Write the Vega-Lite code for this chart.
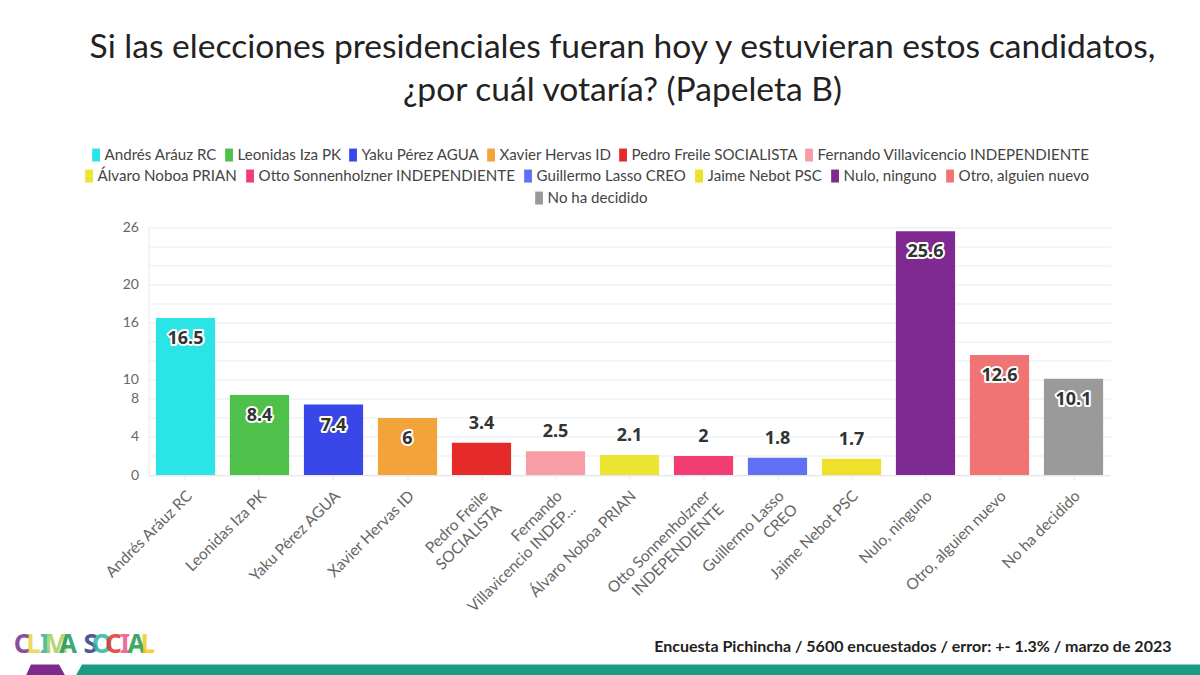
{
  "$schema": "https://vega.github.io/schema/vega-lite/v6.json",
  "width": 962,
  "height": 247.5,
  "autosize": {"type": "none"},
  "padding": {"left": 148.5, "top": 227.5, "right": 89.5, "bottom": 200},
  "background": "white",
  "view": {"stroke": null},
  "title": {
    "text": ["Si las elecciones presidenciales fueran hoy y estuvieran estos candidatos,", "¿por cuál votaría? (Papeleta B)"],
    "font": "Lato",
    "fontSize": 33.6,
    "fontWeight": "normal",
    "color": "#222222",
    "lineHeight": 43,
    "anchor": "middle",
    "frame": "group",
    "dx": -7,
    "offset": 40
  },
  "datasets": {
    "votos": [
      {"candidato": "Andrés Aráuz RC", "valor": 16.5, "fila": 1},
      {"candidato": "Leonidas Iza PK", "valor": 8.4, "fila": 1},
      {"candidato": "Yaku Pérez AGUA", "valor": 7.4, "fila": 1},
      {"candidato": "Xavier Hervas ID", "valor": 6, "fila": 1},
      {"candidato": "Pedro Freile SOCIALISTA", "valor": 3.4, "fila": 1},
      {"candidato": "Fernando Villavicencio INDEPENDIENTE", "valor": 2.5, "fila": 1},
      {"candidato": "Álvaro Noboa PRIAN", "valor": 2.1, "fila": 2},
      {"candidato": "Otto Sonnenholzner INDEPENDIENTE", "valor": 2, "fila": 2},
      {"candidato": "Guillermo Lasso CREO", "valor": 1.8, "fila": 2},
      {"candidato": "Jaime Nebot PSC", "valor": 1.7, "fila": 2},
      {"candidato": "Nulo, ninguno", "valor": 25.6, "fila": 2},
      {"candidato": "Otro, alguien nuevo", "valor": 12.6, "fila": 2},
      {"candidato": "No ha decidido", "valor": 10.1, "fila": 3}
    ],
    "franjas": [
      {"parte": "logo", "pos": 2.17, "alto": -21.05},
      {"parte": "logo", "pos": 2.58, "alto": -19.9},
      {"parte": "logo", "pos": 4.92, "alto": -19.9},
      {"parte": "logo", "pos": 5.42, "alto": -21.05},
      {"parte": "franja", "pos": 6.33, "alto": -21.05},
      {"parte": "franja", "pos": 6.83, "alto": -19.9},
      {"parte": "franja", "pos": 100, "alto": -19.9}
    ],
    "letras": [
      {"orden": 1, "letra": "C"},
      {"orden": 2, "letra": "L"},
      {"orden": 3, "letra": "I"},
      {"orden": 4, "letra": "M"},
      {"orden": 5, "letra": "A"},
      {"orden": 7, "letra": "S"},
      {"orden": 8, "letra": "O"},
      {"orden": 9, "letra": "C"},
      {"orden": 10, "letra": "I"},
      {"orden": 11, "letra": "A"},
      {"orden": 12, "letra": "L"}
    ]
  },
  "layer": [
    {
      "data": {"name": "votos"},
      "transform": [{"filter": "datum.fila == 1"}],
      "mark": {"type": "bar"},
      "encoding": {
        "x": {
          "field": "candidato",
          "type": "nominal",
          "scale": {
            "domain": ["Andrés Aráuz RC", "Leonidas Iza PK", "Yaku Pérez AGUA", "Xavier Hervas ID", "Pedro Freile SOCIALISTA", "Fernando Villavicencio INDEPENDIENTE", "Álvaro Noboa PRIAN", "Otto Sonnenholzner INDEPENDIENTE", "Guillermo Lasso CREO", "Jaime Nebot PSC", "Nulo, ninguno", "Otro, alguien nuevo", "No ha decidido"],
            "paddingInner": 0.2,
            "paddingOuter": 0.1
          },
          "axis": {
            "title": "Encuesta Pichincha / 5600 encuestados / error: +- 1.3% / marzo de 2023",
            "titleFont": "Lato",
            "titleFontSize": 16,
            "titleFontWeight": "bold",
            "titleColor": "#222222",
            "titleAlign": "right",
            "titleAnchor": "end",
            "titleX": 1022.5,
            "titleY": 163,
            "labelAngle": -45,
            "labelAlign": "right",
            "labelBaseline": "middle",
            "labelFont": "Lato",
            "labelFontSize": 15.5,
            "labelColor": "#666666",
            "labelLimit": 220,
            "labelPadding": 13,
            "labelOffset": 4,
            "labelOverlap": false,
            "labelLineHeight": 19,
            "labelExpr": "datum.label == 'Pedro Freile SOCIALISTA' ? ['Pedro Freile', 'SOCIALISTA'] : datum.label == 'Fernando Villavicencio INDEPENDIENTE' ? ['Fernando', 'Villavicencio INDEP…'] : datum.label == 'Otto Sonnenholzner INDEPENDIENTE' ? ['Otto Sonnenholzner', 'INDEPENDIENTE'] : datum.label == 'Guillermo Lasso CREO' ? ['Guillermo Lasso', 'CREO'] : datum.label",
            "tickColor": "#e6e8ee",
            "tickSize": 5,
            "domainColor": "#e6e8ee"
          }
        },
        "y": {
          "field": "valor",
          "type": "quantitative",
          "scale": {"domain": [0, 26], "nice": false},
          "axis": {
            "title": null,
            "values": [0, 2, 4, 6, 8, 10, 12, 14, 16, 18, 20, 22, 24, 26],
            "labelExpr": "indexof([0, 4, 8, 10, 16, 20, 26], datum.value) >= 0 ? datum.label : ''",
            "labelFont": "Lato",
            "labelFontSize": 14,
            "labelColor": "#666666",
            "labelPadding": 10,
            "gridColor": "#e9ebef",
            "domainColor": "#e9ebef",
            "ticks": false
          }
        },
        "color": {
          "field": "candidato",
          "type": "nominal",
          "scale": {
            "domain": ["Andrés Aráuz RC", "Leonidas Iza PK", "Yaku Pérez AGUA", "Xavier Hervas ID", "Pedro Freile SOCIALISTA", "Fernando Villavicencio INDEPENDIENTE"],
            "range": ["#2ae4e6", "#4fc14a", "#3a47e8", "#f2a33a", "#e62a2a", "#f89ca6"]
          },
          "legend": {"title": null, "orient": "none", "legendX": -60, "legendY": -80, "columns": 6, "gridAlign": "none", "columnPadding": 4, "labelFont": "Lato", "labelFontSize": 15.1, "labelColor": "#444444", "labelOffset": 1, "labelLimit": 320, "symbolType": "M-0.6,-1H0.6V1H-0.6Z", "symbolSize": 169, "symbolStrokeWidth": 0}
        }
      }
    },
    {
      "data": {"name": "votos"},
      "transform": [{"filter": "datum.fila == 2"}],
      "mark": {"type": "bar"},
      "encoding": {
        "x": {
          "field": "candidato",
          "type": "nominal",
          "scale": {
            "domain": ["Andrés Aráuz RC", "Leonidas Iza PK", "Yaku Pérez AGUA", "Xavier Hervas ID", "Pedro Freile SOCIALISTA", "Fernando Villavicencio INDEPENDIENTE", "Álvaro Noboa PRIAN", "Otto Sonnenholzner INDEPENDIENTE", "Guillermo Lasso CREO", "Jaime Nebot PSC", "Nulo, ninguno", "Otro, alguien nuevo", "No ha decidido"],
            "paddingInner": 0.2,
            "paddingOuter": 0.1
          },
          "axis": null
        },
        "y": {"field": "valor", "type": "quantitative", "scale": {"domain": [0, 26], "nice": false}, "axis": null},
        "color": {
          "field": "candidato",
          "type": "nominal",
          "scale": {
            "domain": ["Álvaro Noboa PRIAN", "Otto Sonnenholzner INDEPENDIENTE", "Guillermo Lasso CREO", "Jaime Nebot PSC", "Nulo, ninguno", "Otro, alguien nuevo"],
            "range": ["#ece534", "#f23c74", "#6070f5", "#efe02a", "#7f2a90", "#f07474"]
          },
          "legend": {"title": null, "orient": "none", "legendX": -67, "legendY": -59, "columns": 6, "gridAlign": "none", "columnPadding": 5, "labelFont": "Lato", "labelFontSize": 15.1, "labelColor": "#444444", "labelOffset": 1, "labelLimit": 320, "symbolType": "M-0.6,-1H0.6V1H-0.6Z", "symbolSize": 169, "symbolStrokeWidth": 0}
        }
      }
    },
    {
      "data": {"name": "votos"},
      "transform": [{"filter": "datum.fila == 3"}],
      "mark": {"type": "bar"},
      "encoding": {
        "x": {
          "field": "candidato",
          "type": "nominal",
          "scale": {
            "domain": ["Andrés Aráuz RC", "Leonidas Iza PK", "Yaku Pérez AGUA", "Xavier Hervas ID", "Pedro Freile SOCIALISTA", "Fernando Villavicencio INDEPENDIENTE", "Álvaro Noboa PRIAN", "Otto Sonnenholzner INDEPENDIENTE", "Guillermo Lasso CREO", "Jaime Nebot PSC", "Nulo, ninguno", "Otro, alguien nuevo", "No ha decidido"],
            "paddingInner": 0.2,
            "paddingOuter": 0.1
          },
          "axis": null
        },
        "y": {"field": "valor", "type": "quantitative", "scale": {"domain": [0, 26], "nice": false}, "axis": null},
        "color": {
          "field": "candidato",
          "type": "nominal",
          "scale": {"domain": ["No ha decidido"], "range": ["#9a9a9a"]},
          "legend": {"title": null, "orient": "none", "legendX": 383, "legendY": -37, "labelFont": "Lato", "labelFontSize": 15.1, "labelColor": "#444444", "labelOffset": 1, "labelLimit": 320, "symbolType": "M-0.6,-1H0.6V1H-0.6Z", "symbolSize": 169, "symbolStrokeWidth": 0}
        }
      }
    },
    {
      "data": {"name": "votos"},
      "transform": [{"filter": "datum.valor >= 6"}],
      "mark": {"type": "text", "font": "Noto Sans", "fontSize": 18, "fontWeight": "bold", "dy": 21, "stroke": "white", "strokeWidth": 4, "strokeJoin": "round"},
      "encoding": {
        "x": {
          "field": "candidato",
          "type": "nominal",
          "scale": {
            "domain": ["Andrés Aráuz RC", "Leonidas Iza PK", "Yaku Pérez AGUA", "Xavier Hervas ID", "Pedro Freile SOCIALISTA", "Fernando Villavicencio INDEPENDIENTE", "Álvaro Noboa PRIAN", "Otto Sonnenholzner INDEPENDIENTE", "Guillermo Lasso CREO", "Jaime Nebot PSC", "Nulo, ninguno", "Otro, alguien nuevo", "No ha decidido"],
            "paddingInner": 0.2,
            "paddingOuter": 0.1
          },
          "axis": null
        },
        "y": {"field": "valor", "type": "quantitative", "scale": {"domain": [0, 26], "nice": false}, "axis": null},
        "text": {"field": "valor", "type": "quantitative"}
      }
    },
    {
      "data": {"name": "votos"},
      "transform": [{"filter": "datum.valor >= 6"}],
      "mark": {"type": "text", "font": "Noto Sans", "fontSize": 18, "fontWeight": "bold", "dy": 21, "color": "#333333"},
      "encoding": {
        "x": {
          "field": "candidato",
          "type": "nominal",
          "scale": {
            "domain": ["Andrés Aráuz RC", "Leonidas Iza PK", "Yaku Pérez AGUA", "Xavier Hervas ID", "Pedro Freile SOCIALISTA", "Fernando Villavicencio INDEPENDIENTE", "Álvaro Noboa PRIAN", "Otto Sonnenholzner INDEPENDIENTE", "Guillermo Lasso CREO", "Jaime Nebot PSC", "Nulo, ninguno", "Otro, alguien nuevo", "No ha decidido"],
            "paddingInner": 0.2,
            "paddingOuter": 0.1
          },
          "axis": null
        },
        "y": {"field": "valor", "type": "quantitative", "scale": {"domain": [0, 26], "nice": false}, "axis": null},
        "text": {"field": "valor", "type": "quantitative"}
      }
    },
    {
      "data": {"name": "votos"},
      "transform": [{"filter": "datum.valor < 6"}],
      "mark": {"type": "text", "font": "Noto Sans", "fontSize": 18, "fontWeight": "bold", "dy": -19, "color": "#333333"},
      "encoding": {
        "x": {
          "field": "candidato",
          "type": "nominal",
          "scale": {
            "domain": ["Andrés Aráuz RC", "Leonidas Iza PK", "Yaku Pérez AGUA", "Xavier Hervas ID", "Pedro Freile SOCIALISTA", "Fernando Villavicencio INDEPENDIENTE", "Álvaro Noboa PRIAN", "Otto Sonnenholzner INDEPENDIENTE", "Guillermo Lasso CREO", "Jaime Nebot PSC", "Nulo, ninguno", "Otro, alguien nuevo", "No ha decidido"],
            "paddingInner": 0.2,
            "paddingOuter": 0.1
          },
          "axis": null
        },
        "y": {"field": "valor", "type": "quantitative", "scale": {"domain": [0, 26], "nice": false}, "axis": null},
        "text": {"field": "valor", "type": "quantitative"}
      }
    },
    {
      "data": {"name": "franjas"},
      "mark": {"type": "area", "clip": false},
      "encoding": {
        "x": {"field": "pos", "type": "quantitative", "scale": {"domain": [0, 100], "range": [-148.5, 1051.5], "nice": false, "zero": false}, "axis": null},
        "y": {"field": "alto", "type": "quantitative", "scale": {"domain": [0, 26], "nice": false}, "axis": null},
        "y2": {"datum": -21.05},
        "color": {"field": "parte", "type": "nominal", "scale": {"domain": ["logo", "franja"], "range": ["#7d2a8c", "#1a9b86"]}, "legend": null}
      }
    },
    {
      "data": {"name": "letras"},
      "mark": {"type": "text", "font": "Noto Sans", "fontSize": 26, "fontWeight": "bold", "baseline": "middle", "opacity": 0.85},
      "encoding": {
        "x": {"field": "orden", "type": "ordinal", "scale": {"type": "point", "domain": [1, 2, 3, 4, 5, 6, 7, 8, 9, 10, 11, 12], "range": [-132, 5]}, "axis": null},
        "y": {"datum": -17.9, "type": "quantitative", "scale": {"domain": [0, 26], "nice": false}, "axis": null},
        "text": {"field": "letra", "type": "nominal"},
        "color": {"field": "orden", "type": "ordinal", "scale": {"domain": [1, 2, 3, 4, 5, 7, 8, 9, 10, 11, 12], "range": ["#7b2d8e", "#e8d44a", "#2fb5a5", "#a8d060", "#1f9a5a", "#2e3a8c", "#2fb5a5", "#e5352e", "#e8578a", "#1f9a50", "#f2c81e"]}, "legend": null}
      }
    }
  ],
  "resolve": {"scale": {"x": "independent", "color": "independent"}, "axis": {"y": "independent"}}
}
